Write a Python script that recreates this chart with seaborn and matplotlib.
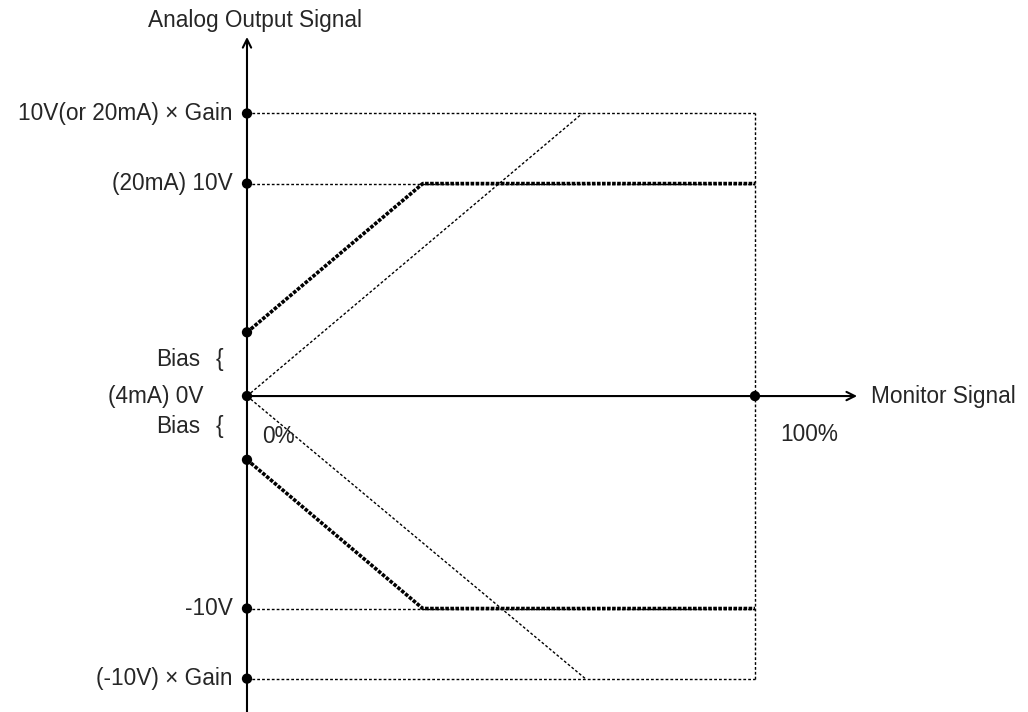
import matplotlib
matplotlib.use("Agg")
import matplotlib.pyplot as plt
import seaborn as sns
import pandas as pd

# Levels on the output axis (volts, drawn to the picture's proportions)
gain_level = 13.3
full_level = 10.0
bias_level = 3.0

# Monitor signal (%) where the lines bend / reach gain
knee_pct = 34.6
gain_up_pct = 66.0
gain_dn_pct = 66.6

# Bias lines (thick dotted)
upper_x = [0, knee_pct, 100]
upper_y = [bias_level, full_level, full_level]
lower_x = [0, knee_pct, 100]
lower_y = [-bias_level, -full_level, -full_level]

# Gain lines (thin dotted)
gain_up_x = [0, gain_up_pct]
gain_up_y = [0, gain_level]
gain_dn_x = [0, gain_dn_pct]
gain_dn_y = [0, -gain_level]

# Guide levels
guide_levels = [gain_level, full_level, -full_level, -gain_level]
guide_labels = ["10V(or 20mA) \u00d7 Gain", "(20mA) 10V", "-10V", "(-10V) \u00d7 Gain"]

# Dots
dot_x = [0, 0, 0, 0, 0, 0, 0, 100]
dot_y = [gain_level, full_level, bias_level, 0, -bias_level, -full_level, -gain_level, 0]

sns.set_style("white")
plt.rcParams['font.family'] = ['Liberation Sans', 'DejaVu Sans']
FS = 16.3

fig = plt.figure(figsize=(10.28, 7.12), dpi=100)
ax = fig.add_axes([0, 0, 1, 1])
ax.set_xlim(-48.62, 153.74)
ax.set_ylim(-14.87, 18.64)
ax.axis('off')

thin = dict(color='black', linewidth=1.0, linestyle=(0, (2, 1.5)))
thick = dict(color='black', linewidth=2.6, linestyle=(0, (1, 0.4)))

# guide lines
for lev in guide_levels:
    sns.lineplot(x=[0, 100], y=[lev, lev], ax=ax, estimator=None, sort=False, **thin)
ax.vlines(100, -gain_level, gain_level, **thin)

# gain lines
sns.lineplot(x=gain_up_x, y=gain_up_y, ax=ax, estimator=None, sort=False, **thin)
sns.lineplot(x=gain_dn_x, y=gain_dn_y, ax=ax, estimator=None, sort=False, **thin)

# bias lines
sns.lineplot(x=upper_x, y=upper_y, ax=ax, estimator=None, sort=False, **thick)
sns.lineplot(x=lower_x, y=lower_y, ax=ax, estimator=None, sort=False, **thick)

# axes with arrows
arrow = dict(arrowstyle='->,head_length=0.6,head_width=0.3', color='black', lw=1.5,
             shrinkA=0, shrinkB=0)
ax.annotate('', xy=(0, 16.9), xytext=(0, -14.87), arrowprops=arrow)
ax.annotate('', xy=(120.1, 0), xytext=(0, 0), arrowprops=arrow)

# dots
sns.scatterplot(x=dot_x, y=dot_y, ax=ax, color='black', s=55, edgecolor='none', zorder=5)

# labels
for lab, lev in zip(guide_labels, guide_levels):
    ax.annotate(lab, (0, lev), xytext=(-10.5, 0), textcoords='offset points',
                ha='right', va='center', fontsize=FS)
ax.annotate("(4mA) 0V", (0, 0), xytext=(-31.5, 0), textcoords='offset points',
            ha='right', va='center', fontsize=FS)
for dy in [26, -22]:
    ax.annotate("Bias", (0, 0), xytext=(-33.5, dy), textcoords='offset points',
                ha='right', va='center', fontsize=FS)
    ax.annotate("{", (0, 0), xytext=(-19.5, dy), textcoords='offset points',
                ha='center', va='center', fontsize=FS)
ax.annotate("0%", (0, 0), xytext=(10.8, -29), textcoords='offset points',
            ha='left', va='center', fontsize=FS)
ax.annotate("100%", (100, 0), xytext=(18, -28), textcoords='offset points',
            ha='left', va='center', fontsize=FS)
ax.annotate("Monitor Signal", (120.1, 0), xytext=(10, 0), textcoords='offset points',
            ha='left', va='center', fontsize=FS)
ax.annotate("Analog Output Signal", (0, 16.9), xytext=(6, 12), textcoords='offset points',
            ha='center', va='center', fontsize=FS)

plt.savefig('out.png', dpi=100)
